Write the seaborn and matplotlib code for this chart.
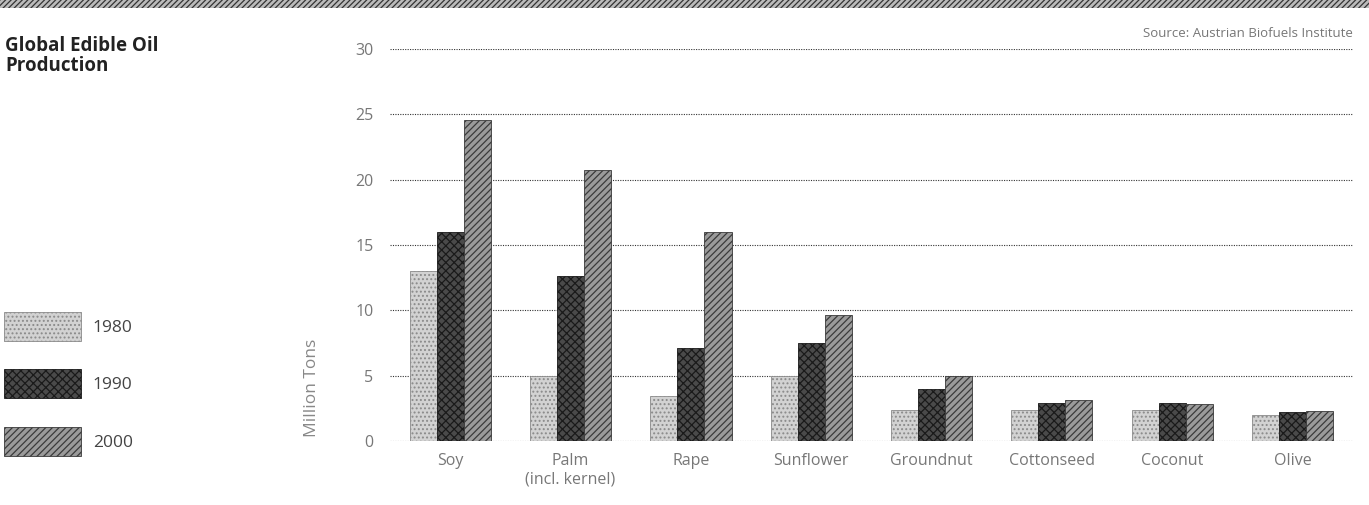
import matplotlib
matplotlib.use("Agg")
import matplotlib.pyplot as plt
from matplotlib.patches import Patch, Rectangle
import seaborn as sns
import pandas as pd

# Production in million tons
crops = ["Soy", "Palm\n(incl. kernel)", "Rape", "Sunflower", "Groundnut",
         "Cottonseed", "Coconut", "Olive"]
years = ["1980", "1990", "2000"]
prod_1980 = [13.0, 5.0, 3.4, 5.0, 2.4, 2.4, 2.4, 1.95]
prod_1990 = [16.0, 12.6, 7.1, 7.5, 4.0, 2.9, 2.9, 2.2]
prod_2000 = [24.6, 20.7, 16.0, 9.6, 5.0, 3.1, 2.8, 2.3]

df = pd.DataFrame({
    "crop": crops * 3,
    "year": [y for y in years for _ in crops],
    "tons": prod_1980 + prod_1990 + prod_2000,
})

sns.set_theme(style="white")
plt.rcParams["font.family"] = ["Open Sans", "DejaVu Sans"]
plt.rcParams["hatch.linewidth"] = 0.9

face = {"1980": "#d2d2d2", "1990": "#4a4a4a", "2000": "#9a9a9a"}
edge = {"1980": "#8a8a8a", "1990": "#1a1a1a", "2000": "#3a3a3a"}
hatch = {"1980": "....", "1990": "xxxx", "2000": "/////"}

fig = plt.figure(figsize=(13.69, 5.05), dpi=100)
ax = fig.add_axes([0.285, 0.127, 0.703, 0.776])

sns.barplot(data=df, x="crop", y="tons", hue="year", order=crops,
            hue_order=years, palette=face, width=0.675, gap=0,
            saturation=1, ax=ax, legend=False)

for yr, cont in zip(years, ax.containers):
    for bar in cont:
        bar.set_hatch(hatch[yr])
        bar.set_edgecolor(edge[yr])
        bar.set_linewidth(0.6)

ax.set_ylim(0, 30)
ax.set_xlim(-0.5, len(crops) - 0.5)
ax.set_yticks(range(0, 31, 5))
ax.set_axisbelow(True)
ax.yaxis.grid(True, color="#333333", linestyle=(0, (1, 1.2)), linewidth=0.8)
ax.xaxis.grid(False)
for s in ax.spines.values():
    s.set_visible(False)
ax.tick_params(axis="both", length=0, colors="#777777", labelsize=11.5)
ax.tick_params(axis="y", pad=12)
ax.tick_params(axis="x", pad=9)
ax.set_xlabel("")
ax.set_ylabel("Million Tons", color="#888888", fontsize=12.5)
ax.yaxis.set_label_coords(-0.073, 0.135)

ax.text(1.0, 1.022, "Source: Austrian Biofuels Institute", transform=ax.transAxes,
        ha="right", va="bottom", fontsize=9.5, color="#777777")

fig.text(0.004, 0.928, "Global Edible Oil\nProduction", ha="left", va="top",
         fontsize=13.5, fontweight="bold", color="#222222", linespacing=1.0)

# Striped banner along the top edge
fig.patches.append(Rectangle((0, 1 - 8 / 505), 1, 8 / 505, transform=fig.transFigure,
                             facecolor="#bbbbbb", edgecolor="#333333",
                             hatch="//////", linewidth=0))

handles = [Patch(facecolor=face[y], edgecolor=edge[y], hatch=hatch[y], linewidth=0.6)
           for y in years]
fig.legend(handles, years, loc="upper left", bbox_to_anchor=(-0.002, 0.396),
           frameon=False, fontsize=12.5, handlelength=4.4, handleheight=2.2,
           labelspacing=1.63, handletextpad=0.7, borderaxespad=0, labelcolor="#444444")

fig.savefig("out.png", dpi=100)
